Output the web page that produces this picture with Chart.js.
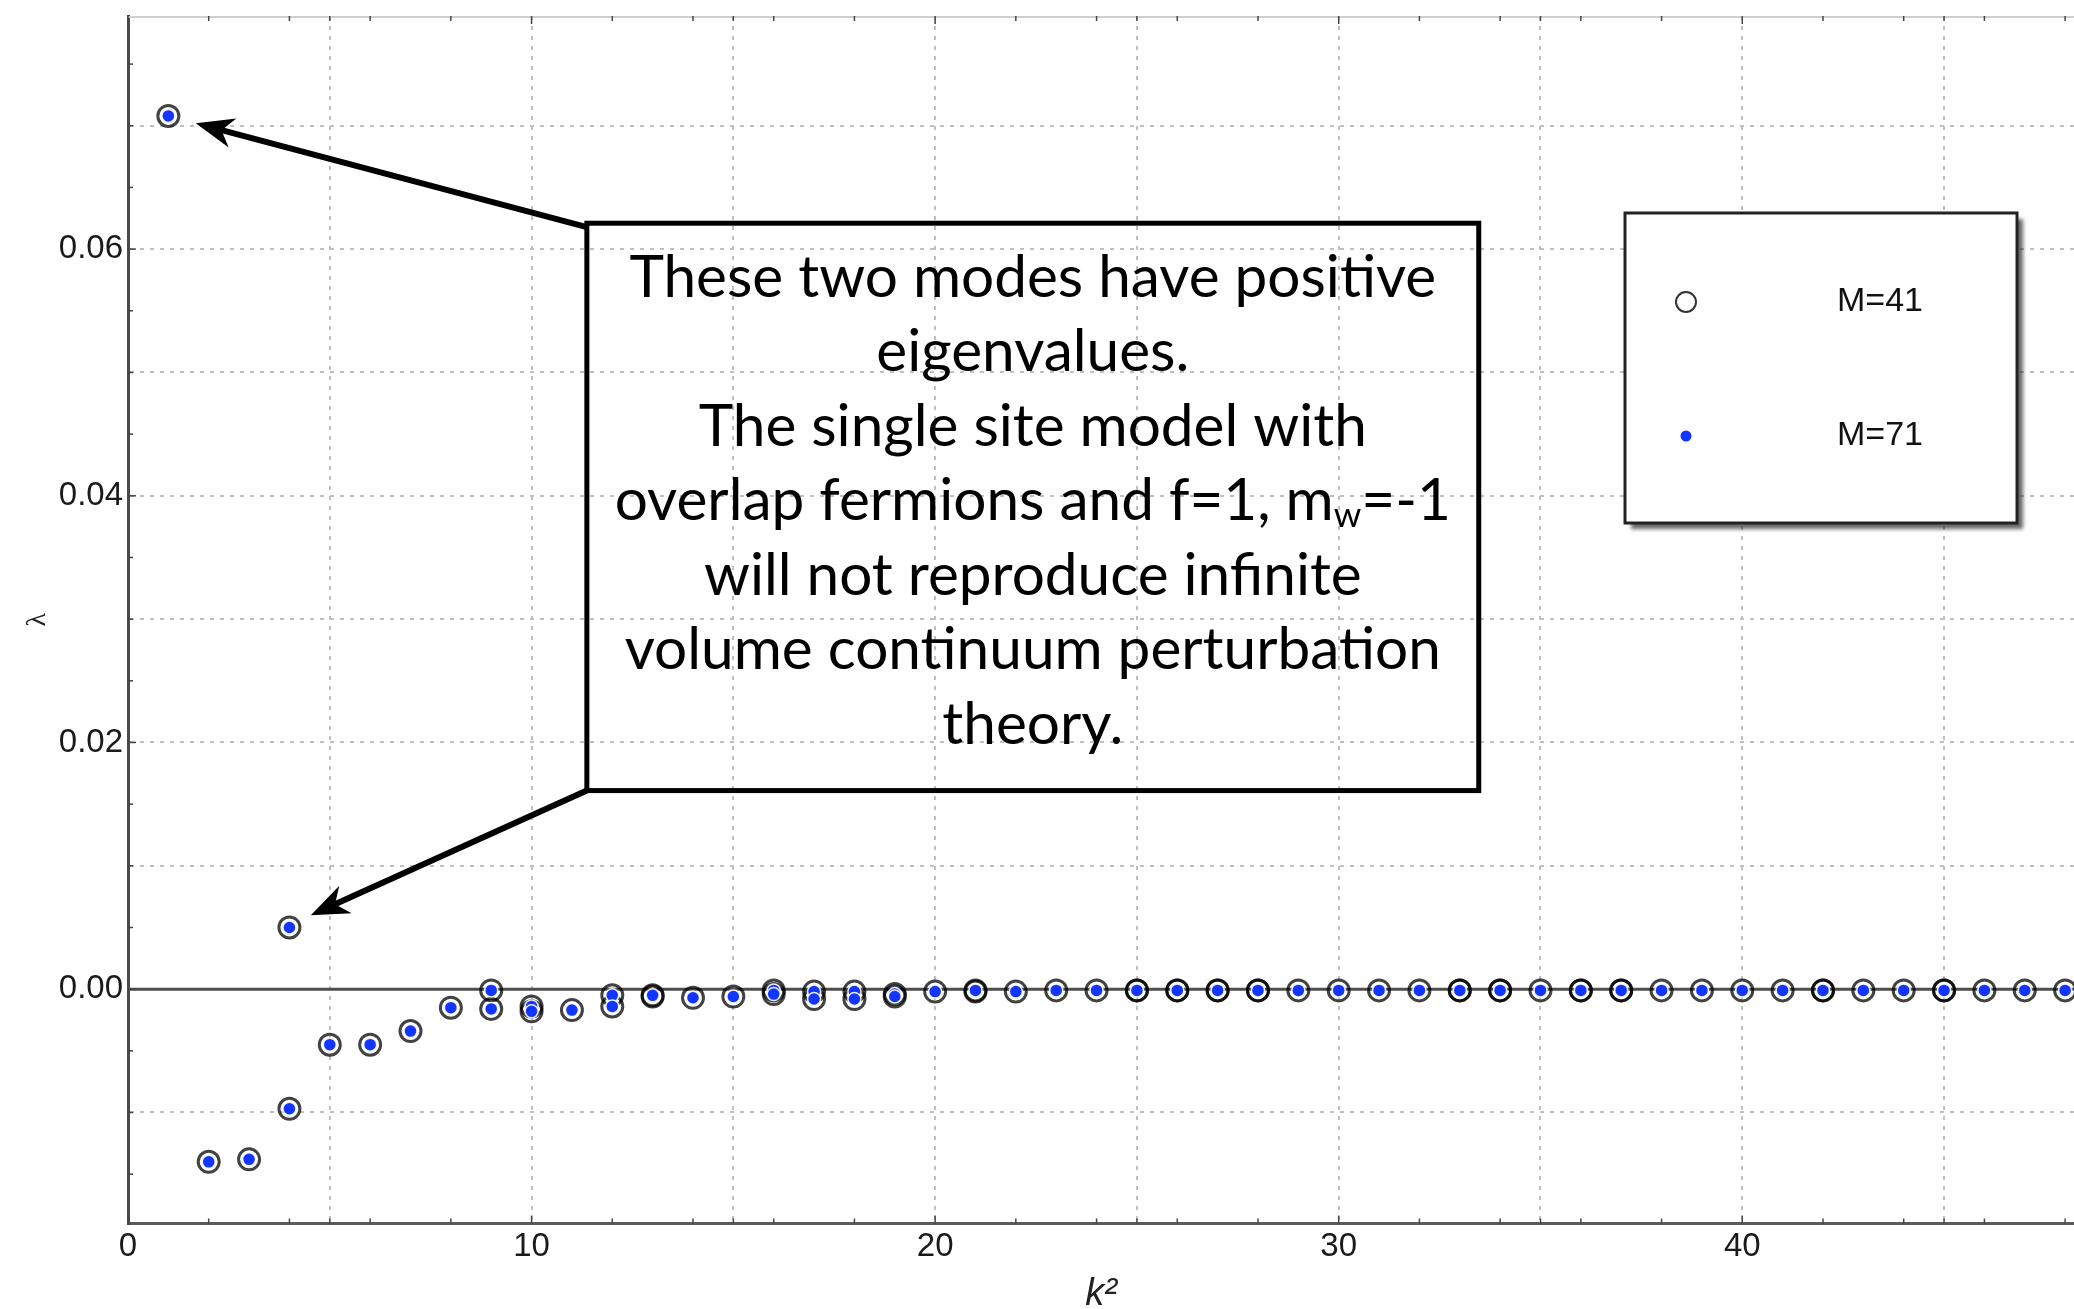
<!DOCTYPE html>
<html>
<head>
<meta charset="utf-8">
<title>Single site overlap eigenvalues</title>
<script src="https://cdn.jsdelivr.net/npm/chart.js@4.4.1/dist/chart.umd.min.js"></script>
<style>
  html, body { margin: 0; padding: 0; background: #fff; }
  #wrap { width: 2074px; height: 1309px; }
</style>
</head>
<body>
<div id="wrap"><canvas id="eigen-plot" width="2074" height="1309"></canvas></div>
<script>
// eigenvalues; repeated entries are degenerate modes
const m41K = [
  1, 2, 3, 4, 4, 5, 6, 7, 8, 9, 9, 10, 10, 11, 12, 12, 13, 13, 14, 15,
  16, 16, 17, 17, 18, 18, 19, 19, 20, 21, 21, 22, 23, 24, 25, 25, 26, 26,
  27, 27, 28, 28, 29, 30, 31, 32, 33, 33, 34, 34, 35, 36, 36, 37, 37, 38,
  39, 40, 41, 42, 42, 43, 44, 45, 45, 46, 47, 48,
];
const m41Lambda = [
  0.0708, -0.0140, -0.0138, 0.0050, -0.0097, -0.0045, -0.0045, -0.0034, -0.0015, -0.0001,
  -0.0016, -0.0014, -0.0018, -0.0017, -0.0005, -0.0014, -0.0005, -0.0006, -0.0007, -0.0006,
  -0.0001, -0.0004, -0.0002, -0.0008, -0.0002, -0.0008, -0.0004, -0.0006, -0.0002, -0.0001,
  -0.0002, -0.0002, -0.0001, -0.0001, -0.0001, -0.0001, -0.0001, -0.0001, -0.0001, -0.0001,
  -0.0001, -0.0001, -0.0001, -0.0001, -0.0001, -0.0001, -0.0001, -0.0001, -0.0001, -0.0001,
  -0.0001, -0.0001, -0.0001, -0.0001, -0.0001, -0.0001, -0.0001, -0.0001, -0.0001, -0.0001,
  -0.0001, -0.0001, -0.0001, -0.0001, -0.0001, -0.0001, -0.0001, -0.0001,
];
const m71K = [
  1, 2, 3, 4, 4, 5, 6, 7, 8, 9, 9, 10, 10, 11, 12, 12, 13, 14, 15, 16,
  16, 17, 17, 18, 18, 19, 19, 20, 21, 22, 23, 24, 25, 26, 27, 28, 29, 30,
  31, 32, 33, 34, 35, 36, 37, 38, 39, 40, 41, 42, 43, 44, 45, 46, 47, 48,
];
const m71Lambda = [
  0.0708, -0.0140, -0.0138, 0.0050, -0.0097, -0.0045, -0.0045, -0.0034, -0.0015, -0.0001,
  -0.0016, -0.0014, -0.0018, -0.0017, -0.0005, -0.0014, -0.0005, -0.0007, -0.0006, -0.0001,
  -0.0004, -0.0002, -0.0008, -0.0002, -0.0008, -0.0004, -0.0006, -0.0002, -0.0001, -0.0002,
  -0.0001, -0.0001, -0.0001, -0.0001, -0.0001, -0.0001, -0.0001, -0.0001, -0.0001, -0.0001,
  -0.0001, -0.0001, -0.0001, -0.0001, -0.0001, -0.0001, -0.0001, -0.0001, -0.0001, -0.0001,
  -0.0001, -0.0001, -0.0001, -0.0001, -0.0001, -0.0001,
];
const seriesLabels = ["M=41", "M=71"];

const xTickValues = [0, 2, 4, 5, 6, 8, 10, 12, 14, 15, 16, 18, 20, 22, 24, 25, 26, 28, 30, 32, 34, 35, 36, 38, 40, 42, 44, 45, 46, 48];
const xLabelValues = [0, 10, 20, 30, 40];
const yTickValues = [-0.015, -0.01, -0.005, 0, 0.005, 0.01, 0.015, 0.02, 0.025, 0.03, 0.035, 0.04, 0.045, 0.05, 0.055, 0.06, 0.065, 0.07, 0.075];
const yLabelValues = [0, 0.02, 0.04, 0.06];

const noteLines = [
  [["These two modes have positive"]],
  [["eigenvalues."]],
  [["The single site model with"]],
  [["overlap fermions and f=1, m"], ["w", "sub"], ["=-1"]],
  [["will not reproduce infinite"]],
  [["volume continuum perturbation"]],
  [["theory."]],
];

// note box and arrow tips, in data units
const noteBox = { k0: 11.37, k1: 33.47, top: 0.0621, bottom: 0.0161 };
const arrowTips = [
  { corner: "top", k: 1.68, lambda: 0.0702 },
  { corner: "bottom", k: 4.53, lambda: 0.0060 },
];

const ringColor = "rgba(0, 0, 0, 0.74)";
const dotColor = "#1236ff";
const tickFont = { family: "'Liberation Sans', Arial, sans-serif", size: 33 };

function toPoints(ks, values) {
  return ks.map((k, i) => ({ x: k, y: values[i] }));
}

function isCentGrid(v) {
  return Math.abs(v * 100 - Math.round(v * 100)) < 1e-9;
}

function strokeLine(ctx, x1, y1, x2, y2) {
  ctx.beginPath();
  ctx.moveTo(x1, y1);
  ctx.lineTo(x2, y2);
  ctx.stroke();
}

function drawArrow(ctx, from, to) {
  const dx = to.x - from.x;
  const dy = to.y - from.y;
  const len = Math.hypot(dx, dy);
  const ux = dx / len;
  const uy = dy / len;
  const head = 38;
  const half = 15;
  ctx.lineWidth = 6;
  strokeLine(ctx, from.x, from.y, to.x - ux * head * 0.6, to.y - uy * head * 0.6);
  ctx.beginPath();
  ctx.moveTo(to.x, to.y);
  ctx.lineTo(to.x - ux * head - uy * half, to.y - uy * head + ux * half);
  ctx.lineTo(to.x - ux * head * 0.7, to.y - uy * head * 0.7);
  ctx.lineTo(to.x - ux * head + uy * half, to.y - uy * head - ux * half);
  ctx.closePath();
  ctx.fill();
}

function noLabelPadding(scale) {
  scale.paddingTop = 0;
  scale.paddingBottom = 0;
  scale.paddingLeft = 0;
  scale.paddingRight = 0;
}

const framePlugin = {
  id: "frame",
  beforeDatasetsDraw(chart) {
    const { ctx, chartArea: a, scales: { x, y } } = chart;
    ctx.save();
    ctx.strokeStyle = "#cfcfcf";
    ctx.lineWidth = 2;
    strokeLine(ctx, a.left, a.top + 1, a.right, a.top + 1);

    const y0 = y.getPixelForValue(0);
    ctx.strokeStyle = "#4e4e4e";
    ctx.lineWidth = 3;
    strokeLine(ctx, a.left, y0, a.right, y0);

    ctx.strokeStyle = "#444";
    ctx.lineWidth = 1.5;
    xTickValues.forEach((v) => {
      const px = x.getPixelForValue(v);
      const len = xLabelValues.includes(v) ? 8 : 5;
      strokeLine(ctx, px, a.bottom, px, a.bottom - len);
      strokeLine(ctx, px, a.top, px, a.top + len);
    });
    yTickValues.forEach((v) => {
      const py = y.getPixelForValue(v);
      const len = yLabelValues.includes(v) ? 8 : 5;
      strokeLine(ctx, a.left, py, a.left + len, py);
    });
    ctx.restore();
  },
  afterDatasetsDraw(chart) {
    const { ctx, scales: { x, y } } = chart;
    ctx.save();

    // note box
    const left = x.getPixelForValue(noteBox.k0);
    const right = x.getPixelForValue(noteBox.k1);
    const top = y.getPixelForValue(noteBox.top);
    const bottom = y.getPixelForValue(noteBox.bottom);
    ctx.strokeStyle = "#000";
    ctx.fillStyle = "#000";
    ctx.lineWidth = 5;
    ctx.strokeRect(left, top, right - left, bottom - top);

    arrowTips.forEach((tip) => {
      const from = { x: left, y: tip.corner === "top" ? top + 4 : bottom };
      drawArrow(ctx, from, { x: x.getPixelForValue(tip.k), y: y.getPixelForValue(tip.lambda) });
    });

    // fit the note text to the box width
    const family = "Lato, 'Open Sans', sans-serif";
    ctx.font = `100px ${family}`;
    const size = (100 * (right - left) * 0.905) / ctx.measureText(noteLines[0][0][0]).width;
    const lineGap = (bottom - top) * 0.1313;
    const firstBase = top + (bottom - top) * 0.13;
    const cx = (left + right) / 2;
    ctx.textBaseline = "alphabetic";
    ctx.textAlign = "left";
    noteLines.forEach((parts, i) => {
      const base = firstBase + i * lineGap;
      const widths = parts.map(([text, kind]) => {
        ctx.font = `${kind === "sub" ? size * 0.6 : size}px ${family}`;
        return ctx.measureText(text).width;
      });
      let px = cx - widths.reduce((s, w) => s + w, 0) / 2;
      parts.forEach(([text, kind], j) => {
        ctx.font = `${kind === "sub" ? size * 0.6 : size}px ${family}`;
        ctx.fillText(text, px, kind === "sub" ? base + size * 0.12 : base);
        px += widths[j];
      });
    });

    // legend
    const lg = { left: 1625, top: 213, width: 392, height: 310 };
    ctx.save();
    ctx.shadowColor = "rgba(0, 0, 0, 0.6)";
    ctx.shadowOffsetX = 6;
    ctx.shadowOffsetY = 6;
    ctx.shadowBlur = 4;
    ctx.fillStyle = "#fff";
    ctx.fillRect(lg.left, lg.top, lg.width, lg.height);
    ctx.restore();
    ctx.strokeStyle = "#222";
    ctx.lineWidth = 3;
    ctx.strokeRect(lg.left, lg.top, lg.width, lg.height);

    const rows = [lg.top + 89, lg.top + 223];
    ctx.strokeStyle = "#333";
    ctx.lineWidth = 2;
    ctx.beginPath();
    ctx.arc(lg.left + 61, rows[0], 10, 0, Math.PI * 2);
    ctx.stroke();
    ctx.fillStyle = dotColor;
    ctx.beginPath();
    ctx.arc(lg.left + 61, rows[1], 5.5, 0, Math.PI * 2);
    ctx.fill();

    ctx.fillStyle = "#111";
    ctx.font = "34px 'Liberation Sans', Arial, sans-serif";
    ctx.textAlign = "center";
    ctx.textBaseline = "middle";
    seriesLabels.forEach((label, i) => ctx.fillText(label, lg.left + 255, rows[i]));
    ctx.restore();
  },
};

new Chart(document.getElementById("eigen-plot"), {
  type: "scatter",
  data: {
    datasets: [
      {
        label: seriesLabels[0],
        data: toPoints(m41K, m41Lambda),
        pointRadius: 10.5,
        pointBorderWidth: 3,
        pointBorderColor: ringColor,
        pointBackgroundColor: "rgba(255, 255, 255, 0)",
        order: 2,
        clip: false,
      },
      {
        label: seriesLabels[1],
        data: toPoints(m71K, m71Lambda),
        pointRadius: 6.5,
        pointBorderWidth: 1.5,
        pointBorderColor: "rgba(255, 255, 255, 0.9)",
        pointBackgroundColor: dotColor,
        order: 1,
        clip: false,
      },
    ],
  },
  options: {
    responsive: false,
    animation: false,
    events: [],
    layout: { autoPadding: false, padding: { top: 16, left: 0, right: 0, bottom: 0 } },
    plugins: {
      legend: { display: false },
      tooltip: { enabled: false },
    },
    scales: {
      x: {
        type: "linear",
        min: 0,
        max: 48.22,
        afterBuildTicks: (scale) => {
          scale.ticks = xTickValues.map((value) => ({ value }));
        },
        afterFit: (scale) => {
          scale.height = 85.5;
          noLabelPadding(scale);
        },
        ticks: {
          autoSkip: false,
          maxRotation: 0,
          padding: 4,
          color: "#1a1a1a",
          font: tickFont,
          callback: (v) => (xLabelValues.includes(v) ? String(v) : ""),
        },
        grid: {
          drawTicks: false,
          lineWidth: 2,
          color: (c) => (c.tick && c.tick.value % 5 === 0 && c.tick.value !== 0 ? "#c0c0c0" : "rgba(0,0,0,0)"),
        },
        border: { display: true, color: "#5a5a5a", width: 3, dash: [4, 6] },
        title: {
          display: true,
          text: "k²",
          color: "#222",
          font: { family: "'Liberation Sans', Arial, sans-serif", size: 38, style: "italic", lineHeight: 1 },
          padding: { top: 0, bottom: -4 },
        },
      },
      y: {
        type: "linear",
        min: -0.019,
        max: 0.0789,
        afterBuildTicks: (scale) => {
          scale.ticks = yTickValues.map((value) => ({ value }));
        },
        afterFit: (scale) => {
          scale.width = 128;
          noLabelPadding(scale);
        },
        ticks: {
          autoSkip: false,
          padding: 5,
          color: "#1a1a1a",
          font: tickFont,
          callback: (v) => (yLabelValues.includes(v) ? v.toFixed(2) : ""),
        },
        grid: {
          drawTicks: false,
          lineWidth: 2,
          color: (c) => (c.tick && c.tick.value !== 0 && isCentGrid(c.tick.value) ? "#c0c0c0" : "rgba(0,0,0,0)"),
        },
        border: { display: true, color: "#4a4a4a", width: 3, dash: [4, 6] },
        title: {
          display: true,
          text: "λ",
          color: "#222",
          font: { family: "'Liberation Serif', 'DejaVu Serif', serif", size: 28, lineHeight: 1 },
          padding: { top: 24, bottom: 0 },
        },
      },
    },
  },
  plugins: [framePlugin],
});
</script>
</body>
</html>
